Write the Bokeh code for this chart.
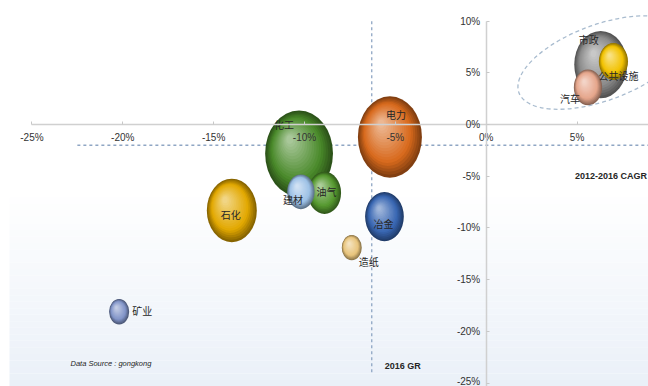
import numpy as np
from bokeh.plotting import figure
from bokeh.models import (Range1d, LinearAxis, FixedTicker, PrintfTickFormatter,
                          ColumnDataSource, Label)
from bokeh.core.properties import value
from bokeh.embed import file_html
from bokeh.resources import INLINE

# ---------------- data ----------------
sectors = ["化工", "电力", "油气", "建材", "石化", "冶金", "造纸", "矿业", "市政", "公共设施", "汽车"]
cagr_2012_2016 = [-10.3, -5.3, -8.9, -10.2, -14.0, -5.6, -7.4, -20.2, 6.3, 7.0, 5.6]
gr_2016 = [-2.8, -1.2, -6.6, -6.5, -8.3, -8.9, -11.9, -18.1, 5.8, 6.1, 3.6]
market_size = [46, 41, 11, 7.5, 25, 15, 4, 4, 28, 8.5, 8]
avg_cagr = -6.3
avg_gr = -2.0
x_ticks = [-25, -20, -15, -10, -5, 0, 5]
y_ticks = [-25, -20, -15, -10, -5, 0, 5, 10]

# ---------------- styles ----------------
base_colors = ["#4a8a2a", "#d8691c", "#55982f", "#9dc1e6", "#e2a800", "#3866b2",
               "#e8c47c", "#8194c8", "#8c8c8c", "#f2c200", "#e6a68c"]
label_offsets = [(-15, -29), (6, -22), (2, -1), (-8, 8), (-1, 4), (-1, 7),
                 (17, 14), (23, -1), (-12, -25), (5, 14), (-18, 11)]

W, H = 648, 386
x0, x1 = -26.73, 8.93
y0, y1 = -25.33, 12.0
px_x = W / (x1 - x0)
px_y = H / (y1 - y0)
ASPECT = 1.27

CJK = "Noto Sans CJK SC"
SANS = "Liberation Sans"


def hex2rgb(c):
    c = c.lstrip("#")
    return np.array([int(c[i:i + 2], 16) for i in (0, 2, 4)], dtype=float)


def rgb2hex(a):
    a = np.clip(np.round(a), 0, 255).astype(int)
    return "#%02x%02x%02x" % tuple(a)


def mix(a, b, t):
    return a * (1 - t) + b * t


p = figure(width=W, height=H, x_range=Range1d(x0, x1), y_range=Range1d(y0, y1),
           output_backend="svg", toolbar_location=None,
           x_axis_location=None, y_axis_location=None, min_border=0)
p.outline_line_color = None
p.background_fill_color = "#ffffff"
p.border_fill_color = "#ffffff"
p.xgrid.visible = False
p.ygrid.visible = False

# background gradient (lower part)
nb = 30
edges = np.linspace(-6.4, y0, nb + 1)
white = hex2rgb("#ffffff")
blue = hex2rgb("#eaf0f8")
bg_cols = [rgb2hex(mix(white, blue, (i + 0.5) / nb)) for i in range(nb)]
p.quad(left=[(9 / px_x) + x0] * nb, right=[x1] * nb, top=list(edges[:-1]),
       bottom=list(edges[1:]), fill_color=bg_cols, line_color=None)

# reference dashed lines
p.segment(x0=[avg_cagr], y0=[10], x1=[avg_cagr], y1=[-24], line_color="#8fa6c4",
          line_width=1.3, line_dash="3 3")
p.segment(x0=[-22.5], y0=[avg_gr], x1=[x1], y1=[avg_gr], line_color="#8fa6c4",
          line_width=1.3, line_dash="3 3")

# spheres
N = 18
ex, ey, ew, eh, ec = [], [], [], [], []
for i in range(len(sectors)):
    d = 10 * np.sqrt(market_size[i])
    w = d / px_x
    h = d * ASPECT / px_y
    base = hex2rgb(base_colors[i])
    dark = mix(base, np.zeros(3), 0.4)
    light = mix(base, white, 0.6)
    for k in range(N):
        t = k / (N - 1)
        s = 1 - 0.9 * t
        cx = cagr_2012_2016[i] + (1 - s) * (-0.30 * w / 2)
        cy = gr_2016[i] + (1 - s) * (0.36 * h / 2)
        if s > 0.75:
            col = mix(base, dark, (s - 0.75) / 0.25)
        else:
            col = mix(light, base, s / 0.75)
        ex.append(cx); ey.append(cy); ew.append(w * s); eh.append(h * s); ec.append(rgb2hex(col))

p.ellipse(x="x", y="y", width="w", height="h", fill_color="c", line_color=None,
          source=ColumnDataSource(dict(x=ex, y=ey, w=ew, h=eh, c=ec)))

# dashed ellipse around top-right cluster
p.ellipse(x=[6.35], y=[6.0], width=[176 / px_x], height=[76 / px_y], angle=0.35,
          fill_color=None, line_color="#a9bccf", line_width=1.3, line_dash="4 3")

# sector labels
p.text(x=cagr_2012_2016, y=gr_2016, text=sectors,
       x_offset=[o[0] for o in label_offsets], y_offset=[o[1] for o in label_offsets],
       text_font=value(CJK), text_font_size="10px", text_color="#262626",
       text_align="center", text_baseline="middle")

# axes crossing at zero
xaxis = LinearAxis(fixed_location=0, ticker=FixedTicker(ticks=x_ticks),
                   formatter=PrintfTickFormatter(format="%d%%"))
yaxis = LinearAxis(fixed_location=0, ticker=FixedTicker(ticks=y_ticks),
                   formatter=PrintfTickFormatter(format="%d%%"))
for ax in (xaxis, yaxis):
    ax.axis_line_color = "#d0d0d0"
    ax.axis_line_width = 1.5
    ax.major_tick_line_color = "#c8c8c8"
    ax.major_tick_in = 3
    ax.major_tick_out = 0
    ax.minor_tick_line_color = None
    ax.major_label_text_font = SANS
    ax.major_label_text_font_size = "10px"
    ax.major_label_text_color = "#333333"
xaxis.bounds = (-25, 10)
yaxis.bounds = (-26, 10)
xaxis.major_label_standoff = 7
yaxis.major_label_standoff = 6
p.add_layout(xaxis, "below")
p.add_layout(yaxis, "left")

# titles / notes
p.add_layout(Label(x=8.85, y=-5.02, text="2012-2016 CAGR", text_font=SANS,
                   text_font_style="bold", text_font_size="9px", text_color="#262626",
                   text_align="right", text_baseline="middle"))
p.add_layout(Label(x=-4.6, y=-23.3, text="2016 GR", text_font=SANS,
                   text_font_style="bold", text_font_size="9px", text_color="#262626",
                   text_align="center", text_baseline="middle"))
p.add_layout(Label(x=-22.88, y=-23.1, text="Data Source : gongkong", text_font=SANS,
                   text_font_style="italic", text_font_size="7.5px", text_color="#262626",
                   text_align="left", text_baseline="middle"))

open("out.html", "w").write(file_html(p, INLINE))
